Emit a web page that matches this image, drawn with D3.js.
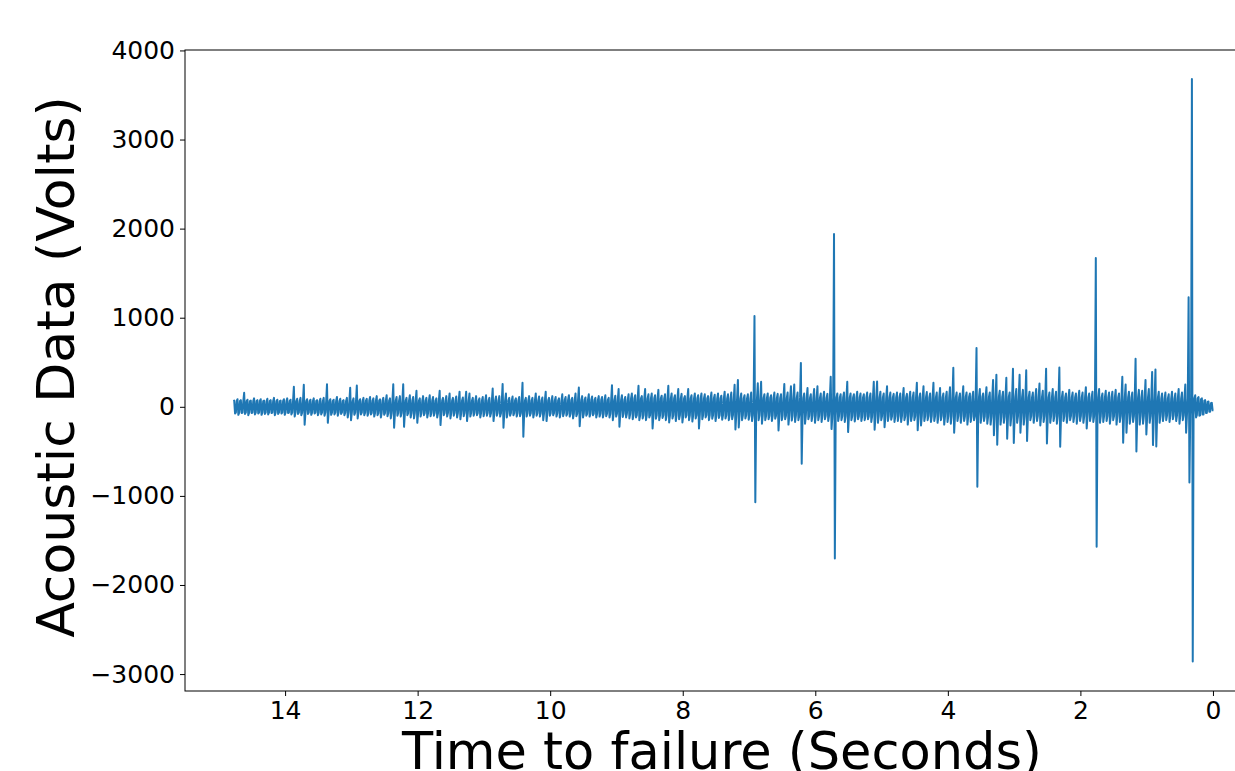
<!DOCTYPE html>
<html>
<head>
<meta charset="utf-8">
<script src="https://cdn.jsdelivr.net/npm/d3@7"></script>
<style>
  html, body { margin: 0; padding: 0; background: #fff; }
  svg { display: block; }
  text { font-family: "DejaVu Sans", sans-serif; fill: #000; }
</style>
</head>
<body>
<svg id="chart" width="1235" height="771"></svg>
<script>
// Sampling grid of the decimated trace (seconds to failure)
const startTime = 14.78;
const binWidth = 0.05;

// Per-bin maximum of the acoustic signal (Volts)
const binMax = [
  70, 85, 75, 157, 80, 70, 95, 75, 85, 70,
  90, 75, 100, 80, 70, 85, 95, 80, 224, 90,
  100, 247, 85, 80, 95, 75, 90, 100, 254, 85,
  80, 110, 90, 75, 100, 213, 95, 239, 85, 100,
  90, 110, 95, 120, 85, 100, 130, 95, 254, 110,
  120, 254, 100, 130, 110, 180, 95, 120, 100, 130,
  110, 95, 180, 100, 120, 150, 100, 115, 170, 105,
  170, 150, 100, 120, 95, 110, 130, 100, 205, 115,
  120, 257, 150, 100, 115, 95, 110, 269, 100, 120,
  100, 150, 115, 105, 170, 100, 120, 110, 95, 140,
  110, 130, 100, 150, 217, 120, 105, 140, 115, 100,
  120, 110, 130, 100, 243, 125, 200, 130, 110, 140,
  150, 130, 235, 120, 200, 140, 150, 130, 190, 125,
  140, 235, 150, 130, 200, 145, 120, 200, 130, 150,
  130, 150, 140, 120, 160, 135, 150, 125, 170, 140,
  160, 247, 302, 150, 130, 140, 160, 1020, 265, 280,
  140, 150, 130, 160, 145, 140, 255, 160, 230, 250,
  160, 493, 150, 210, 140, 200, 230, 150, 170, 145,
  336, 1939, 150, 140, 160, 280, 150, 140, 170, 150,
  140, 160, 150, 280, 284, 170, 150, 230, 160, 145,
  160, 150, 210, 145, 170, 160, 269, 150, 230, 165,
  150, 269, 160, 210, 150, 170, 220, 437, 160, 150,
  230, 160, 150, 170, 661, 200, 150, 220, 160, 302,
  359, 180, 170, 325, 160, 426, 200, 359, 190, 411,
  170, 160, 200, 262, 180, 426, 160, 200, 170, 441,
  170, 150, 190, 160, 150, 180, 160, 220, 150, 170,
  1670, 200, 150, 180, 160, 170, 190, 150, 336, 250,
  170, 160, 538, 190, 180, 302, 200, 392, 418, 170,
  150, 160, 140, 170, 150, 200, 160, 250, 1230, 3680,
  130, 110, 95, 75, 60, 45
];

// Per-bin minimum of the acoustic signal (Volts)
const binMin = [
  -75, -90, -70, -80, -95, -70, -85, -75, -90, -80,
  -85, -70, -95, -80, -75, -90, -70, -85, -110, -80,
  -95, -202, -80, -90, -75, -95, -85, -100, -180, -90,
  -85, -100, -80, -95, -120, -150, -90, -130, -85, -95,
  -100, -85, -110, -95, -120, -90, -105, -130, -235, -100,
  -110, -225, -95, -120, -130, -180, -110, -95, -120, -105,
  -100, -120, -205, -95, -110, -130, -100, -120, -140, -105,
  -160, -110, -100, -95, -120, -105, -100, -110, -160, -100,
  -110, -235, -120, -100, -95, -110, -105, -336, -110, -100,
  -120, -100, -110, -150, -160, -100, -95, -110, -120, -105,
  -100, -110, -130, -105, -217, -120, -100, -110, -95, -120,
  -110, -120, -105, -120, -150, -110, -224, -115, -120, -130,
  -140, -120, -150, -130, -150, -120, -243, -135, -150, -125,
  -150, -175, -130, -160, -140, -175, -120, -150, -165, -130,
  -243, -140, -120, -150, -135, -160, -125, -145, -130, -150,
  -140, -254, -232, -150, -130, -145, -160, -1070, -150, -190,
  -150, -140, -160, -135, -265, -150, -140, -200, -155, -170,
  -150, -639, -190, -140, -160, -180, -150, -170, -140, -160,
  -250, -1704, -160, -150, -170, -284, -150, -165, -140, -160,
  -150, -140, -170, -258, -180, -150, -230, -160, -145, -170,
  -160, -170, -150, -200, -160, -150, -262, -210, -160, -150,
  -170, -160, -180, -150, -200, -170, -190, -291, -160, -180,
  -160, -200, -170, -150, -897, -180, -160, -190, -200, -318,
  -426, -200, -180, -359, -210, -407, -180, -291, -200, -384,
  -150, -180, -160, -210, -170, -411, -180, -160, -190, -448,
  -160, -180, -150, -170, -190, -160, -180, -243, -160, -170,
  -1570, -180, -170, -160, -190, -150, -200, -170, -403, -290,
  -190, -170, -501, -200, -190, -310, -180, -430, -445, -180,
  -160, -150, -170, -140, -160, -190, -150, -291, -850, -2860,
  -120, -100, -85, -70, -55, -40
];

// Typical (dense-core) half-width of the signal, one value per second of record (Volts)
const coreAmp = [65, 65, 70, 70, 72, 78, 95, 95, 100, 105, 105, 110, 105, 105, 95];

const xTicks = [14, 12, 10, 8, 6, 4, 2, 0];
const yTicks = [-3000, -2000, -1000, 0, 1000, 2000, 3000, 4000];
const xLabel = "Time to failure (Seconds)";
const yLabel = "Acoustic Data (Volts)";

// Build the trace: within each bin the signal swings +core -> max -> min -> -core
const trace = [];
binMax.forEach((hi, i) => {
  const lo = binMin[i];
  const c = Math.min(coreAmp[Math.floor(i / 20)], hi, -lo);
  const t = startTime - i * binWidth;
  trace.push({ t: t, v: c });
  trace.push({ t: t - binWidth * 0.25, v: hi });
  trace.push({ t: t - binWidth * 0.5, v: lo });
  trace.push({ t: t - binWidth * 0.75, v: -c });
});

const svg = d3.select("#chart");
const mLeft = 185, mTop = 50, mBottom = 691, mRight = 1262;

const x = d3.scaleLinear().domain([15.51, -0.74]).range([mLeft, mRight]);
const y = d3.scaleLinear().domain([-3190, 4005]).range([mBottom, mTop]);

// Axes
const xAxis = d3.axisBottom(x).tickValues(xTicks).tickFormat(d3.format("d")).tickSize(5).tickPadding(5);
const yAxis = d3.axisLeft(y).tickValues(yTicks).tickFormat(d => d < 0 ? "\u2212" + Math.abs(d) : String(d)).tickSize(5).tickPadding(5);

const gx = svg.append("g").attr("transform", `translate(0,${mBottom})`).call(xAxis);
const gy = svg.append("g").attr("transform", `translate(${mLeft},0)`).call(yAxis);

[gx, gy].forEach(g => {
  g.select(".domain").remove();
  g.selectAll(".tick line").attr("stroke", "#000").attr("stroke-width", 1);
  g.selectAll(".tick text").style("font-family", "DejaVu Sans, sans-serif").style("font-size", "25px").attr("fill", "#000");
});

// Spines (box)
svg.append("rect")
  .attr("x", mLeft).attr("y", mTop)
  .attr("width", mRight - mLeft).attr("height", mBottom - mTop)
  .attr("fill", "none").attr("stroke", "#000").attr("stroke-width", 1);

// Trace
const line = d3.line().x(d => x(d.t)).y(d => y(d.v));
svg.append("path")
  .datum(trace)
  .attr("d", line)
  .attr("fill", "none")
  .attr("stroke", "#1f77b4")
  .attr("stroke-width", 2)
  .attr("stroke-linejoin", "round");

// Axis labels
svg.append("text")
  .attr("x", 722).attr("y", 769)
  .attr("text-anchor", "middle")
  .style("font-size", "51px")
  .text(xLabel);

svg.append("text")
  .attr("transform", `translate(74,367) rotate(-90)`)
  .attr("text-anchor", "middle")
  .style("font-size", "52px")
  .text(yLabel);
</script>
</body>
</html>
